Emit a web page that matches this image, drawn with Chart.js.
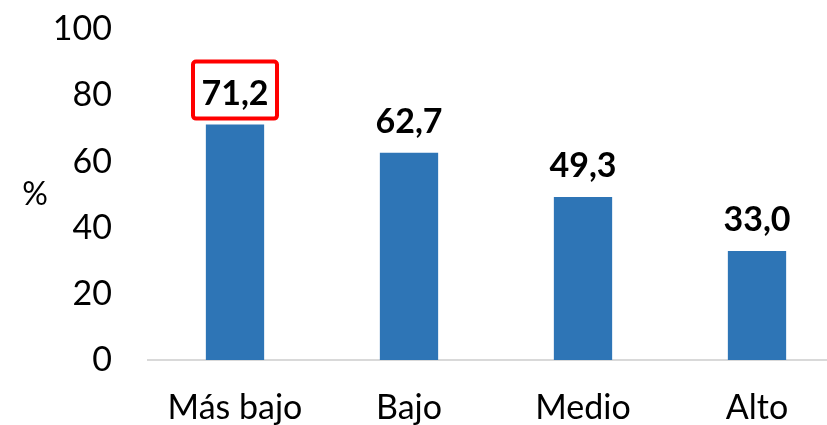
<!DOCTYPE html>
<html>
<head>
<meta charset="utf-8">
<script src="https://cdn.jsdelivr.net/npm/chart.js@4"></script>
<style>
    html, body { margin: 0; padding: 0; background: #fff; overflow: hidden; }
    #wrap { width: 844px; height: 452px; margin-top: -27px; }
</style>
</head>
<body>
<div id="wrap"><canvas id="wykres" width="844" height="452"></canvas></div>
<script>
const categories = ['Más bajo', 'Bajo', 'Medio', 'Alto'];
const values = [71.2, 62.7, 49.3, 33.0];
const valueLabels = ['71,2', '62,7', '49,3', '33,0'];
const yTicks = [0, 20, 40, 60, 80, 100];
const highlighted = 0; // słupek z czerwoną ramką

const FONT = 'Lato, "Open Sans", sans-serif';

// etykiety wartości + ramka + znak %
const extras = {
    id: 'extras',
    afterDatasetsDraw(chart) {
        const ctx = chart.ctx;
        const bars = chart.getDatasetMeta(0).data;
        ctx.save();
        ctx.fillStyle = '#000';
        ctx.font = 'bold 34px ' + FONT;
        ctx.textAlign = 'center';
        ctx.textBaseline = 'alphabetic';
        bars.forEach((bar, i) => {
            ctx.fillText(valueLabels[i], bar.x, bar.y - 20);
        });
        const b = bars[highlighted];
        ctx.strokeStyle = '#ff0000';
        ctx.lineWidth = 4;
        ctx.beginPath();
        ctx.roundRect(b.x - 42, b.y - 63, 84, 57, 3);
        ctx.stroke();

        ctx.font = '32px ' + FONT;
        ctx.textAlign = 'center';
        ctx.textBaseline = 'middle';
        const a = chart.chartArea;
        ctx.fillText('%', 35, (a.top + a.bottom) / 2);
        ctx.restore();
    }
};

document.addEventListener("DOMContentLoaded", function() {
    const ctx = document.getElementById('wykres').getContext('2d');
    new Chart(ctx, {
        type: 'bar',
        data: {
            labels: categories,
            datasets: [{
                data: values,
                backgroundColor: '#2e75b6',
                barPercentage: 0.335,
                categoryPercentage: 1
            }]
        },
        options: {
            responsive: false,
            animation: false,
            layout: { padding: { top: 0, right: 0, bottom: 0, left: 0 } },
            plugins: {
                legend: { display: false },
                tooltip: { enabled: false }
            },
            scales: {
                x: {
                    grid: { display: false, drawTicks: false },
                    border: { display: true, color: '#d9d9d9', width: 2 },
                    ticks: { color: '#000', font: { family: FONT, size: 34 }, padding: 28 },
                    afterFit: s => { s.height = 65; }
                },
                y: {
                    min: 0,
                    max: 100,
                    afterBuildTicks: s => { s.ticks = yTicks.map(v => ({ value: v })); },
                    grid: { display: false, drawTicks: false },
                    border: { display: false },
                    ticks: { color: '#000', font: { family: FONT, size: 34 }, padding: 36 },
                    afterFit: s => { s.width = 148; }
                }
            }
        },
        plugins: [extras]
    });
});
</script>
</body>
</html>
